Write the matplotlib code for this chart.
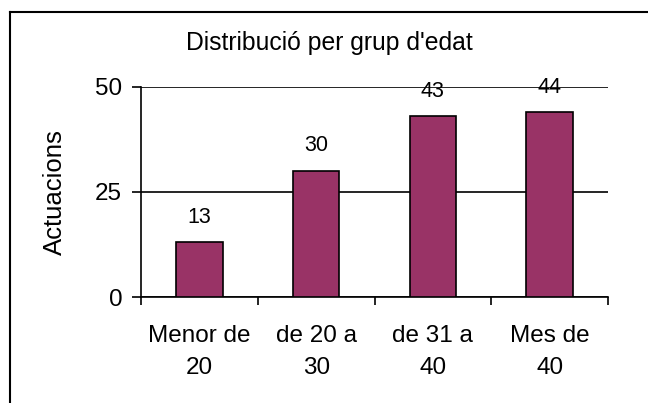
import matplotlib
matplotlib.use("Agg")
import matplotlib.pyplot as plt
from matplotlib.lines import Line2D

# data
categories = ["Menor de\n20", "de 20 a\n30", "de 31 a\n40", "Mes de\n40"]
actuacions = [13, 30, 43, 44]
yticks = [0, 25, 50]

plt.rcParams["font.family"] = ["Liberation Sans", "DejaVu Sans"]

fig = plt.figure(figsize=(6.48, 4.03), dpi=100)
ax = fig.add_axes([141 / 648, 1 - 297 / 403, 467 / 648, 210 / 403])

x = list(range(len(categories)))
ax.bar(x, actuacions, width=0.4, color="#993366", edgecolor="black", linewidth=1.2, zorder=3)
for xi, v in zip(x, actuacions):
    ax.annotate(str(v), (xi, v), xytext=(0, 18), textcoords="offset points",
                ha="center", va="center", fontsize=15.5, zorder=4)

ax.set_xlim(-0.5, len(categories) - 0.5)
ax.set_ylim(0, 50)
ax.set_yticks(yticks)
ax.tick_params(axis="y", direction="out", length=6.5, width=1.2, labelsize=17.5, pad=7)
ax.yaxis.grid(True, color="black", linewidth=1.2, zorder=0)

# category boundaries as major ticks, names as minor ticks
ax.set_xticks([i - 0.5 for i in range(len(categories) + 1)])
ax.set_xticklabels([])
ax.set_xticks(x, minor=True)
ax.set_xticklabels(categories, minor=True, fontsize=17.5, linespacing=1.62)
ax.tick_params(axis="x", which="major", direction="out", length=6, width=1.2)
ax.tick_params(axis="x", which="minor", length=0, pad=20)

for s in ["top", "right"]:
    ax.spines[s].set_visible(False)
for s in ["left", "bottom"]:
    ax.spines[s].set_linewidth(1.2)

ax.set_ylabel("Actuacions", fontsize=18.5)
ax.yaxis.set_label_coords(-0.158, 0.5)

fig.text(329 / 648, 1 - 43 / 403, "Distribució per grup d'edat", ha="center", va="center", fontsize=17.8)

# chart area frame (top and left edges visible)
fig.add_artist(Line2D([10 / 648, 1], [1 - 12 / 403] * 2, color="black", linewidth=1.5, transform=fig.transFigure))
fig.add_artist(Line2D([10 / 648] * 2, [0, 1 - 12 / 403], color="black", linewidth=1.5, transform=fig.transFigure))

fig.savefig("out.png", dpi=100)
